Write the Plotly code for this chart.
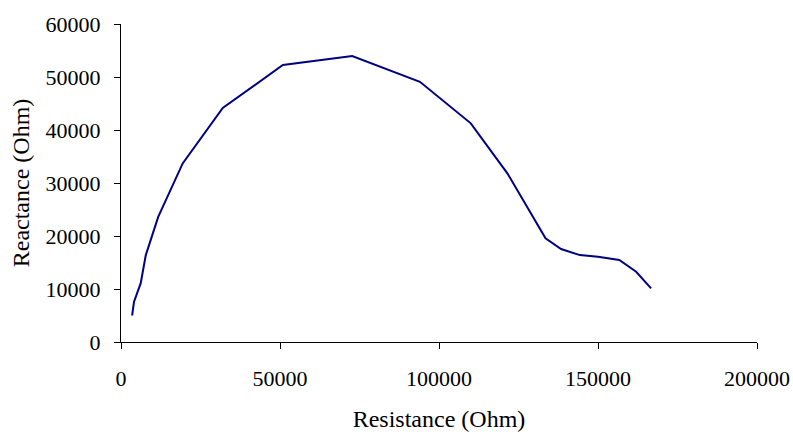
import plotly.graph_objects as go

resistance = [3500, 4100, 6200, 7800, 11700, 19400, 32000, 50900, 72700, 94000,
              110000, 121500, 133500, 138400, 144300, 150000, 156700, 162000, 166700]
reactance = [5000, 7600, 11100, 16400, 23600, 33700, 44150, 52260, 53960, 49100,
             41260, 31830, 19560, 17550, 16400, 16100, 15470, 13260, 10130]

x_ticks = [0, 50000, 100000, 150000, 200000]
y_ticks = [0, 10000, 20000, 30000, 40000, 50000, 60000]

fig = go.Figure()
fig.add_trace(go.Scatter(x=resistance, y=reactance, mode="lines",
                         line=dict(color="#000080", width=2), showlegend=False))

font_family = "Liberation Serif, Times New Roman, serif"
fig.update_layout(
    width=793, height=432,
    margin=dict(l=121, r=36, t=24, b=90, autoexpand=False),
    paper_bgcolor="white", plot_bgcolor="white",
    font=dict(family=font_family, size=22, color="black"),
    xaxis=dict(range=[0, 200000], tickvals=x_ticks, ticktext=[str(v) for v in x_ticks],
               showgrid=False, zeroline=False, showline=True, linecolor="black", linewidth=1,
               ticks="outside", ticklen=6, tickcolor="black", ticklabelstandoff=11,
               automargin=False,
               title=dict(text="Resistance (Ohm)", font=dict(size=24), standoff=22)),
    yaxis=dict(range=[0, 60000], tickvals=y_ticks, ticktext=[str(v) for v in y_ticks],
               showgrid=False, zeroline=False, showline=True, linecolor="black", linewidth=1,
               ticks="outside", ticklen=6, tickcolor="black", ticklabelstandoff=9,
               automargin=False,
               title=dict(text="Reactance (Ohm)", font=dict(size=24), standoff=9)),
)
fig.write_html("out.html", config={"displayModeBar": False},
               post_script="document.body.style.margin='0';document.body.style.overflow='hidden';")
